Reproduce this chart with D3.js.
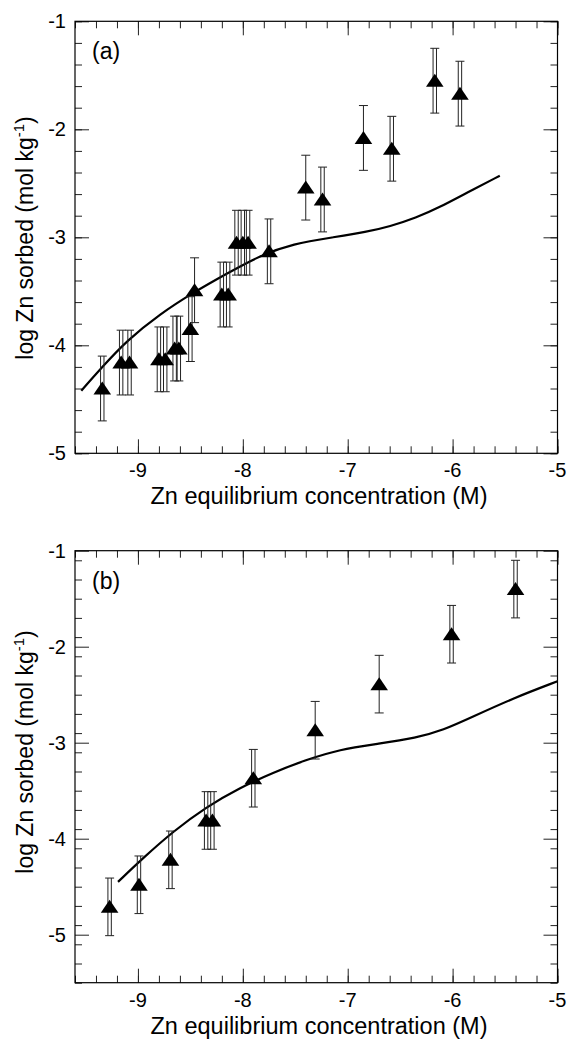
<!DOCTYPE html>
<html>
<head>
<meta charset="utf-8">
<script src="https://cdn.jsdelivr.net/npm/d3@7"></script>
<style>
  body { margin: 0; background: #fff; }
  svg { display: block; font-family: "Liberation Sans", Arial, Helvetica, sans-serif; }
</style>
</head>
<body>
<svg id="chart"></svg>
<script>
// Valeurs des axes
const xTicks = [-9, -8, -7, -6, -5];
const yTicks = [-5, -4, -3, -2, -1];

// Panneau (a) : points mesurés (log C, log sorbé, demi-barre d'erreur)
const aX = [-9.34, -9.16, -9.08, -8.80, -8.74, -8.65, -8.61, -8.50, -8.46, -8.20, -8.14,
  -8.06, -8.00, -7.95, -7.75, -7.40, -7.24, -6.85, -6.58, -6.17, -5.93];
const aY = [-4.40, -4.16, -4.16, -4.13, -4.13, -4.03, -4.03, -3.85, -3.49, -3.53, -3.53,
  -3.05, -3.05, -3.05, -3.13, -2.54, -2.65, -2.08, -2.18, -1.55, -1.67];
const aErr = [0.3, 0.3, 0.3, 0.3, 0.3, 0.3, 0.3, 0.3, 0.3, 0.3, 0.3,
  0.3, 0.3, 0.3, 0.3, 0.3, 0.3, 0.3, 0.3, 0.3, 0.3];
// Panneau (a) : courbe du modèle
const aModelX = [-9.54, -9.33, -9.11, -8.79, -8.47, -8.16, -7.84, -7.52, -7.14, -6.82,
  -6.60, -6.35, -6.12, -5.87, -5.55];
const aModelY = [-4.42, -4.19, -3.96, -3.71, -3.51, -3.34, -3.17, -3.06, -3.00, -2.95,
  -2.90, -2.82, -2.72, -2.59, -2.43];

// Panneau (b)
const bX = [-9.27, -8.99, -8.69, -8.35, -8.29, -7.90, -7.31, -6.70, -6.01, -5.40];
const bY = [-4.71, -4.48, -4.22, -3.81, -3.81, -3.37, -2.87, -2.39, -1.87, -1.40];
const bErr = [0.3, 0.3, 0.3, 0.3, 0.3, 0.3, 0.3, 0.3, 0.3, 0.3];
const bModelX = [-9.19, -8.95, -8.66, -8.35, -8.03, -7.71, -7.40, -7.08, -6.70, -6.35,
  -6.09, -5.81, -5.43, -5.00];
const bModelY = [-4.45, -4.20, -3.92, -3.67, -3.47, -3.31, -3.18, -3.07, -3.01, -2.95,
  -2.87, -2.73, -2.54, -2.36];

// Barres d'erreur tracées en trait simple (les autres sont doubles)
const aSingle = [8, 15, 17];
const bSingle = [6, 7];

const width = 568,
  height = 1039;

const svg = d3.select("#chart").attr("width", width).attr("height", height);

function drawPanel(p) {
  const x = d3.scaleLinear().domain([-9.6, -5]).range([75, 557.5]);
  const y = d3.scaleLinear().domain(p.yDomain).range([p.bottom, p.top]);
  const g = svg.append("g");

  const minorX = d3.range(-9.6, -4.99, 0.2).map(v => +v.toFixed(1));
  const minorY = d3.range(p.yDomain[0], -0.99, 0.2).map(v => +v.toFixed(1));

  // Graduations (vers l'intérieur, sur les quatre côtés)
  const axes = [
    [d3.axisBottom(x), `translate(0,${p.bottom})`, minorX, xTicks],
    [d3.axisTop(x), `translate(0,${p.top})`, minorX, xTicks],
    [d3.axisLeft(y), `translate(75,0)`, minorY, yTicks],
    [d3.axisRight(y), `translate(557.5,0)`, minorY, yTicks]
  ];
  axes.forEach(([ax, tr, minor, major]) => {
    g.append("g")
      .attr("transform", tr)
      .call(ax.tickValues(minor).tickSize(-7).tickFormat(""))
      .call(s => s.select(".domain").remove())
      .call(s => s.selectAll("line").attr("stroke", "#222"));
    g.append("g")
      .attr("transform", tr)
      .call(ax.tickValues(major).tickSize(-14).tickFormat(""))
      .call(s => s.select(".domain").remove())
      .call(s => s.selectAll("line").attr("stroke", "#222"));
  });

  // Cadre
  g.append("rect")
    .attr("x", 75)
    .attr("y", p.top)
    .attr("width", 482.5)
    .attr("height", p.bottom - p.top)
    .attr("fill", "none")
    .attr("stroke", "#000")
    .attr("stroke-width", 1.2);

  // Étiquettes des graduations
  g.selectAll(".xlab")
    .data(xTicks)
    .join("text")
    .attr("x", d => x(d))
    .attr("y", p.bottom + 24)
    .attr("text-anchor", "middle")
    .attr("font-size", 20)
    .text(d => String(d));
  g.selectAll(".ylab")
    .data(yTicks)
    .join("text")
    .attr("x", 66)
    .attr("y", d => y(d) + 7)
    .attr("text-anchor", "end")
    .attr("font-size", 20)
    .text(d => String(d));

  // Titres des axes
  g.append("text")
    .attr("x", 319)
    .attr("y", p.bottom + 51)
    .attr("text-anchor", "middle")
    .attr("font-size", 23.5)
    .text("Zn equilibrium concentration (M)");
  const yl = g.append("text")
    .attr("transform", `translate(33,${p.yLabel}) rotate(-90)`)
    .attr("text-anchor", "middle")
    .attr("font-size", 23);
  yl.append("tspan").text("log Zn sorbed (mol kg");
  yl.append("tspan").attr("font-size", 15).attr("dy", -9).text("-1");
  yl.append("tspan").attr("dy", 9).text(")");

  g.append("text")
    .attr("x", 92)
    .attr("y", p.top + 38)
    .attr("font-size", 23)
    .text(p.name);

  // Courbe du modèle
  const line = d3.line()
    .x(d => x(d[0]))
    .y(d => y(d[1]))
    .curve(d3.curveBasis);
  g.append("path")
    .datum(d3.zip(p.modelX, p.modelY))
    .attr("d", line)
    .attr("fill", "none")
    .attr("stroke", "#000")
    .attr("stroke-width", 2.2);

  // Barres d'erreur
  const pts = p.xs.map((v, i) => ({ x: v, y: p.ys[i], e: p.err[i], single: p.single.includes(i) }));
  const bars = g.append("g").attr("stroke", "#222").attr("stroke-width", 1);
  pts.forEach(d => {
    const cx = x(d.x);
    const offs = d.single ? [0] : [-1.7, 1.7];
    offs.forEach(o => {
      bars.append("line")
        .attr("x1", cx + o).attr("x2", cx + o)
        .attr("y1", y(d.y - d.e)).attr("y2", y(d.y + d.e));
    });
    [d.y - d.e, d.y + d.e].forEach(v => {
      bars.append("line")
        .attr("x1", cx - 4.5).attr("x2", cx + 4.5)
        .attr("y1", y(v)).attr("y2", y(v));
    });
  });

  // Triangles pleins
  g.selectAll(".tri")
    .data(pts)
    .join("path")
    .attr("transform", d => `translate(${x(d.x)},${y(d.y)})`)
    .attr("d", "M0,-7L8.8,6L-8.8,6Z")
    .attr("fill", "#000");
}

drawPanel({
  name: "(a)", top: 21.3, bottom: 453.3, yDomain: [-5, -1], yLabel: 238,
  xs: aX, ys: aY, err: aErr, single: aSingle, modelX: aModelX, modelY: aModelY
});
drawPanel({
  name: "(b)", top: 550.7, bottom: 982.7, yDomain: [-5.5, -1], yLabel: 752,
  xs: bX, ys: bY, err: bErr, single: bSingle, modelX: bModelX, modelY: bModelY
});
</script>
</body>
</html>
